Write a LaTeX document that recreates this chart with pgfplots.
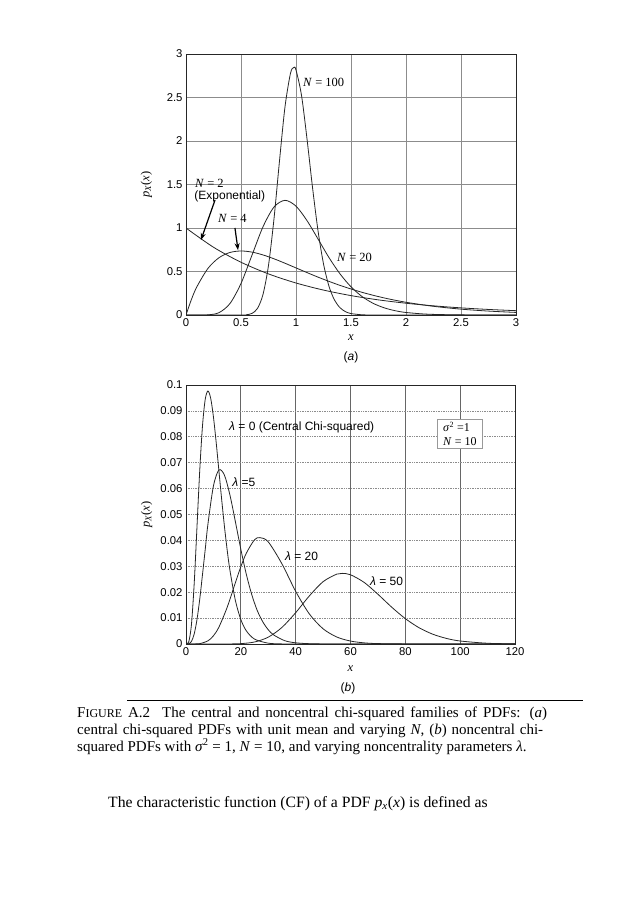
\documentclass[border=0pt]{standalone}
\usepackage{fontspec}
\setmainfont{Liberation Serif}
\setsansfont{Liberation Sans}
\usepackage{pgfplots}
\pgfplotsset{compat=1.18}
\usetikzlibrary{arrows.meta}
\newcommand{\tk}{\sffamily\fontsize{11.3}{12}\selectfont}
\newcommand{\ann}{\fontsize{12.5}{14}\selectfont}
\newcommand{\sann}{\sffamily\fontsize{12}{14}\selectfont}
\tikzset{curve/.style={black!85, line width=0.8pt, smooth, mark=none}}
\pgfplotsset{
  myax/.style={
    scale only axis, anchor=south west, clip=true,
    axis line style={black!85, line width=0.8pt},
    major tick length=0pt,
    ticklabel style={font=\tk},
    /pgf/number format/assume math mode=true,
    every axis y label/.style={at={(axis description cs:-0.12,0.5)}, rotate=90, anchor=center, font=\ann},
  }
}
\begin{document}
\begin{tikzpicture}
\fill[white] (0pt,0pt) rectangle (636pt,-900pt);
\path[use as bounding box] (0pt,0pt) rectangle (636pt,-900pt);

% ---------------- (a) ----------------
\begin{axis}[myax, at={(186pt,-315pt)}, width=330pt, height=261pt,
  xmin=0, xmax=3, ymin=0, ymax=3,
  xtick={0,0.5,1,1.5,2,2.5,3}, xticklabels={0,0.5,1,1.5,2,2.5,3},
  ytick={0,0.5,1,1.5,2,2.5,3}, yticklabels={0,0.5,1,1.5,2,2.5,3},
  grid=major, major grid style={black!45, line width=0.7pt},
  ylabel={\textit{p}\textsubscript{\textit{X}}(\textit{x})},
  xlabel={\textit{x}},
  every axis x label/.style={at={(axis description cs:0.5,-0.085)}, anchor=center, font=\ann},
]
% N = 2 (exponential)
\addplot[curve] coordinates {(0,1) (0.25,0.7788) (0.5,0.6065) (0.75,0.4724) (1,0.3679) (1.25,0.2865) (1.5,0.2231) (1.75,0.1738) (2,0.1353) (2.25,0.1054) (2.5,0.0821) (2.75,0.0639) (3,0.0498)};
% N = 4
\addplot[curve] coordinates {(0,0) (0.05,0.1810) (0.1,0.3275) (0.2,0.5363) (0.3,0.6586) (0.4,0.7189) (0.5,0.7358) (0.6,0.7229) (0.7,0.6905) (0.8,0.6461) (0.9,0.5951) (1.0,0.5413) (1.2,0.4354) (1.4,0.3405) (1.6,0.2609) (1.8,0.1967) (2.0,0.1465) (2.25,0.1000) (2.5,0.0674) (2.75,0.0450) (3,0.0297)};
% N = 20
\addplot[curve] coordinates {(0,0) (0.1,0) (0.2,0.0019) (0.3,0.027) (0.4,0.1323) (0.5,0.3627) (0.6,0.688) (0.7,1.014) (0.8,1.241) (0.9,1.318) (1.0,1.251) (1.1,1.085) (1.2,0.874) (1.3,0.660) (1.4,0.473) (1.5,0.324) (1.6,0.213) (1.7,0.135) (1.8,0.0833) (1.9,0.0498) (2.0,0.0291) (2.2,0.0093) (2.5,0.0015) (3,0)};
% N = 100
\addplot[curve] coordinates {(0,0) (0.5,0) (0.55,0.0032) (0.6,0.0184) (0.65,0.0763) (0.7,0.2367) (0.75,0.5706) (0.8,1.1066) (0.85,1.772) (0.9,2.393) (0.95,2.779) (0.98,2.845) (1.0,2.816) (1.05,2.525) (1.1,2.025) (1.15,1.468) (1.2,0.9696) (1.25,0.588) (1.3,0.330) (1.35,0.172) (1.4,0.0839) (1.45,0.0384) (1.5,0.0166) (1.6,0.0026) (1.7,0.0003) (1.8,0) (3,0)};

\node[anchor=west, font=\ann, inner sep=0pt] at (axis cs:1.064,2.678) {\textit{N} = 100};
\node[anchor=west, font=\ann, inner sep=0pt] at (axis cs:0.082,1.517) {\textit{N} = 2};
\node[anchor=west, font=\sann, inner sep=0pt] at (axis cs:0.075,1.368) {(Exponential)};
\node[anchor=west, font=\ann, inner sep=0pt] at (axis cs:0.291,1.115) {\textit{N} = 4};
\node[anchor=west, font=\ann, inner sep=0pt] at (axis cs:1.373,0.667) {\textit{N} = 20};
\draw[-{Stealth[length=7pt,width=5pt]}, line width=1.2pt, black] (axis cs:0.264,1.322) -- (axis cs:0.136,0.862);
\draw[-{Stealth[length=7pt,width=5pt]}, line width=1.2pt, black] (axis cs:0.445,1.0) -- (axis cs:0.473,0.745);
\end{axis}
\node[font=\sann] at (351pt,-357pt) {(\textit{a})};

% ---------------- (b) ----------------
\begin{axis}[myax, at={(186pt,-644pt)}, width=329pt, height=259pt,
  xmin=0, xmax=120, ymin=0, ymax=0.1,
  xtick={0,20,40,60,80,100,120}, xticklabels={0,20,40,60,80,100,120},
  ytick={0,0.01,0.02,0.03,0.04,0.05,0.06,0.07,0.08,0.09,0.1},
  yticklabels={0,0.01,0.02,0.03,0.04,0.05,0.06,0.07,0.08,0.09,0.1},
  xmajorgrids, ymajorgrids,
  major x grid style={black!60, line width=0.7pt},
  major y grid style={black!45, line width=0.7pt, densely dotted},
  ylabel={\textit{p}\textsubscript{\textit{X}}(\textit{x})},
  xlabel={\textit{x}},
  every axis x label/.style={at={(axis description cs:0.5,-0.097)}, anchor=center, font=\ann},
]
% lambda = 0
\addplot[curve] coordinates {(0,0) (1,0.00079) (2,0.00766) (3,0.02353) (4,0.0451) (5,0.0668) (6,0.08402) (7,0.0944) (8,0.09768) (9,0.0949) (10,0.08773) (11,0.07791) (12,0.06693) (13,0.05591) (14,0.04561) (15,0.03646) (16,0.02863) (18,0.01687) (20,0.00946) (22,0.005094) (25,0.001896) (30,0.000323) (35,0.00004) (40,0) (60,0) (120,0)};
% lambda = 5
\addplot[curve] coordinates {(0,0) (1,0.000083) (2,0.00102) (3,0.003924) (4,0.00938) (5,0.01721) (6,0.02666) (7,0.0364) (8,0.0463) (10,0.06099) (12,0.06719) (14,0.06524) (16,0.05763) (18,0.04729) (20,0.03657) (22,0.02692) (24,0.01902) (26,0.0129) (28,0.00858) (30,0.0055) (32,0.00348) (36,0.00129) (40,0.00046) (45,0.00012) (50,0.00003) (60,0) (120,0)};
% lambda = 20
\addplot[curve] coordinates {(0,0) (3,0.00001) (5,0.00014) (8,0.00122) (10,0.00317) (12,0.00651) (15,0.01413) (18,0.02363) (20,0.02983) (22,0.03506) (25,0.04026) (27,0.04107) (30,0.03944) (35,0.03094) (40,0.02033) (45,0.0116) (50,0.00588) (55,0.0027) (60,0.00114) (65,0.00044) (70,0.00016) (80,0.00003) (90,0) (120,0)};
% lambda = 50
\addplot[curve] coordinates {(0,0) (10,0) (15,0.000015) (20,0.00015) (25,0.00078) (30,0.00264) (35,0.00641) (40,0.0121) (45,0.01858) (50,0.02407) (55,0.02699) (57,0.02727) (60,0.02674) (65,0.02377) (70,0.01921) (75,0.01425) (80,0.0098) (85,0.00629) (90,0.00379) (95,0.00216) (100,0.00116) (110,0.00029) (120,0.00006)};

\node[anchor=west, font=\sann, inner sep=0pt] at (axis cs:15.7,0.0838) {\textit{λ} = 0 (Central Chi-squared)};
\node[anchor=west, font=\sann, inner sep=0pt] at (axis cs:16.8,0.0625) {\textit{λ} =5};
\node[anchor=west, font=\sann, inner sep=0pt] at (axis cs:36.1,0.0340) {\textit{λ} = 20};
\node[anchor=west, font=\sann, inner sep=0pt] at (axis cs:67.1,0.0243) {\textit{λ} = 50};
\node[draw=black!40, line width=0.7pt, fill=white, inner xsep=6pt, inner ysep=3pt, align=left, font=\fontsize{12}{14}\selectfont] at (axis cs:99.9,0.0811) {\textit{σ}\textsuperscript{2} =1\\ \textit{N} = 10};
\end{axis}
\node[font=\sann] at (348pt,-688pt) {(\textit{b})};

% ---------------- caption ----------------
\draw[line width=1pt] (127pt,-700pt) -- (583pt,-700pt);
\node[anchor=base west, inner sep=0pt, font=\fontsize{15}{17}\selectfont] at (77pt,-717pt)
  {\hbox to 470pt{F{\fontsize{12}{12}\selectfont IGURE} A.2\hskip 12pt The central and noncentral chi-squared families of PDFs: (\textit{a})}};
\node[anchor=base west, inner sep=0pt, font=\fontsize{15}{17}\selectfont] at (77pt,-734pt)
  {\hbox to 466pt{central chi-squared PDFs with unit mean and varying \textit{N}, (\textit{b}) noncentral chi-}};
\node[anchor=base west, inner sep=0pt, font=\fontsize{15}{17}\selectfont] at (77pt,-751pt)
  {squared PDFs with \textit{σ}\textsuperscript{2} = 1, \textit{N} = 10, and varying noncentrality parameters \textit{λ}.};
\node[anchor=base west, inner sep=0pt, font=\fontsize{15.7}{18}\selectfont] at (108pt,-807pt)
  {The characteristic function (CF) of a PDF \textit{p}\textsubscript{\textit{x}}(\textit{x}) is defined as};
\end{tikzpicture}
\end{document}
